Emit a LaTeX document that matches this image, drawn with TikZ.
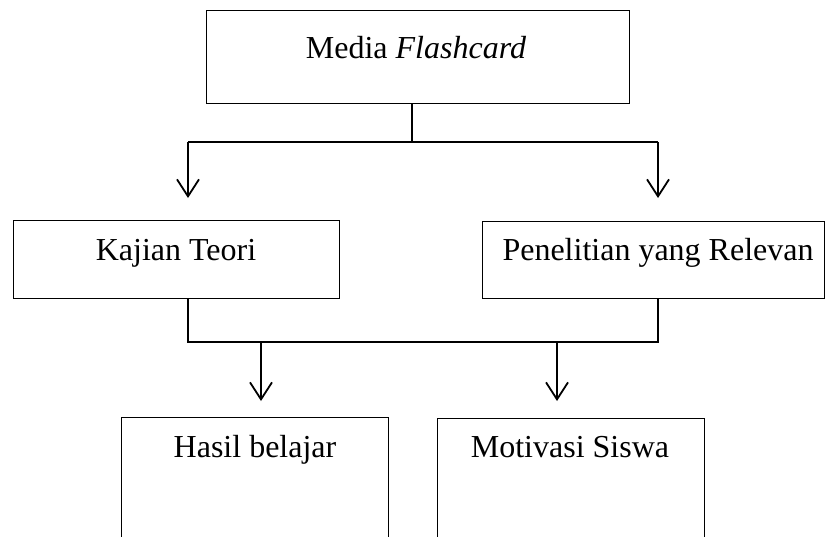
\documentclass[tikz,border=0pt]{standalone}
\usepackage{fontspec}
\setmainfont{Liberation Serif}
\usetikzlibrary{arrows.meta}
\begin{document}
\begin{tikzpicture}[x=1pt,y=-1pt,
  box/.style={draw=black, line width=1.3pt, inner sep=0pt, anchor=north west},
  lbl/.style={anchor=base, inner sep=0pt, font=\fontsize{32}{38}\selectfont},
  conn/.style={draw=black, line width=1.8pt},
  arr/.style={conn, -{Straight Barb[length=17pt,width=22pt,line width=1.8pt]}}]
\useasboundingbox (0,0) rectangle (826,536);
\clip (0,0) rectangle (826,536);
% boxes
\node[box, minimum width=423pt, minimum height=93pt] (media) at (206,10) {};
\node[box, minimum width=326pt, minimum height=78pt] (kajian) at (13,220) {};
\node[box, minimum width=342pt, minimum height=77pt] (penelitian) at (482,221) {};
\node[box, minimum width=267pt, minimum height=140pt] (hasil) at (121,417) {};
\node[box, minimum width=267pt, minimum height=140pt] (motivasi) at (437,418) {};
% texts
\node[lbl] (tmedia) at (416,58) {Media \textit{Flashcard}};
\node[lbl] (tkajian) at (176,260) {Kajian Teori};
\node[lbl] (tpenelitian) at (658,260) {Penelitian yang Relevan};
\node[lbl] (thasil) at (255,457) {Hasil belajar};
\node[lbl] (tmotivasi) at (570,457) {Motivasi Siswa};
% junction coordinates
\coordinate (m) at (412,142);
\coordinate (ml) at (188,142);
\coordinate (mr) at (658,142);
\coordinate (bl) at (188,342);
\coordinate (br) at (658,342);
\coordinate (al) at (261,342);
\coordinate (ar) at (557,342);
\coordinate (tipkl) at (188,198);
\coordinate (tipkr) at (658,198);
\coordinate (tiphl) at (261,401);
\coordinate (tiphr) at (557,401);
% connectors
\draw[conn] (media.south -| m) -- (m);
\draw[conn] (ml) -- (mr);
\draw[arr] (ml) -- (tipkl);
\draw[arr] (mr) -- (tipkr);
\draw[conn] (kajian.south -| bl) -- (bl) -- (br) -- (penelitian.south -| br);
\draw[arr] (al) -- (tiphl);
\draw[arr] (ar) -- (tiphr);
\end{tikzpicture}
\end{document}
